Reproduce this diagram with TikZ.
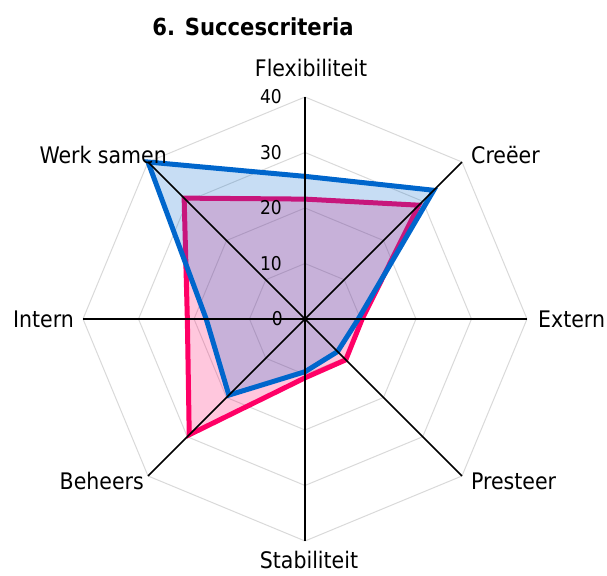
\documentclass[tikz,border=0pt]{standalone}
\usepackage{fontspec}
\setmainfont{DejaVu Sans Condensed}
\usetikzlibrary{calc}
\definecolor{blueln}{HTML}{0066CC}
\definecolor{pinkln}{HTML}{FF0066}
\definecolor{gridc}{HTML}{D9D9D9}
\begin{document}
\begin{tikzpicture}[x=1pt,y=1pt,
  gridline/.style={draw=gridc, line width=1pt},
  axisline/.style={draw=black, line width=1.6pt},
  seriesline/.style={line width=5pt, line join=miter},
  seriesfill/.style={opacity=0.22},
  cat/.style={font=\fontsize{22.8}{27}\selectfont, inner sep=0pt},
  ticklbl/.style={font=\fontsize{19}{22}\selectfont, inner sep=0pt, anchor=east},
  titlelbl/.style={font=\bfseries\fontsize{23.5}{28}\selectfont, inner sep=0pt}
]
\useasboundingbox (0,0) rectangle (607,575);
\coordinate (O) at (305,256);
\def\R{5.55}
% grid rings
\foreach \r in {10,20,30,40}{
  \draw[gridline, shift={(O)}] (90:{\r*\R}) -- (45:{\r*\R}) -- (0:{\r*\R}) -- (-45:{\r*\R}) -- (-90:{\r*\R}) -- (-135:{\r*\R}) -- (180:{\r*\R}) -- (135:{\r*\R}) -- cycle;
}
% pink series
\fill[pinkln, seriesfill, shift={(O)}] (90:{21.6*\R}) -- (45:{29*\R}) -- (0:{10.3*\R}) -- (-45:{10.4*\R}) -- (-90:{10.6*\R}) -- (-135:{29.5*\R}) -- (180:{21.2*\R}) -- (135:{30.8*\R}) -- cycle;
\draw[pinkln, seriesline, shift={(O)}] (90:{21.6*\R}) -- (45:{29*\R}) -- (0:{10.3*\R}) -- (-45:{10.4*\R}) -- (-90:{10.6*\R}) -- (-135:{29.5*\R}) -- (180:{21.2*\R}) -- (135:{30.8*\R}) -- cycle;
% blue series
\fill[blueln, seriesfill, shift={(O)}] (90:{25.7*\R}) -- (45:{32.8*\R}) -- (0:{9.6*\R}) -- (-45:{8.3*\R}) -- (-90:{9.5*\R}) -- (-135:{19.4*\R}) -- (180:{17.8*\R}) -- (135:{40*\R}) -- cycle;
\draw[blueln, seriesline, shift={(O)}] (90:{25.7*\R}) -- (45:{32.8*\R}) -- (0:{9.6*\R}) -- (-45:{8.3*\R}) -- (-90:{9.5*\R}) -- (-135:{19.4*\R}) -- (180:{17.8*\R}) -- (135:{40*\R}) -- cycle;
% axes
\foreach \a [count=\i] in {90,45,0,-45,-90,-135,180,135}{
  \coordinate (A\i) at ($(O)+(\a:222)$);
  \draw[axisline] (O) -- (A\i);
}
% tick labels
\node[ticklbl] (t0) at (283,256) {0};
\node[ticklbl] (t10) at (282,311.5) {10};
\node[ticklbl] (t20) at (282,367) {20};
\node[ticklbl] (t30) at (282,422.5) {30};
\node[ticklbl] (t40) at (282,478) {40};
% category labels
\node[cat] (flex) at (311,507) {Flexibiliteit};
\node[cat, anchor=west] (creeer) at (471,420) {Creëer};
\node[cat, anchor=west] (extern) at (538,256) {Extern};
\node[cat, anchor=west] (presteer) at (471,94) {Presteer};
\node[cat] (stab) at (309,15) {Stabiliteit};
\node[cat, anchor=east] (beheers) at (144,94) {Beheers};
\node[cat, anchor=east] (intern) at (74,256) {Intern};
\node[cat, anchor=east] (werk) at (167,420) {Werk samen};
% title
\node[titlelbl] (title) at (253,548) {6. Succescriteria};
\end{tikzpicture}
\end{document}
